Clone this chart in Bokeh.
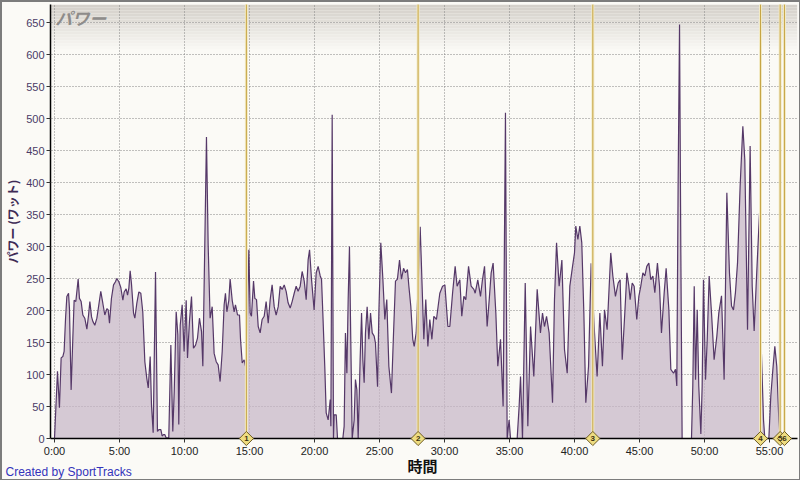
from bokeh.plotting import figure
from bokeh.models import Range1d, FixedTicker, Label, LabelSet, ColumnDataSource
from bokeh.embed import file_html
from bokeh.resources import INLINE

# ---- data (minutes, watts) ----
time_min = [
    0.00, 0.23, 0.38, 0.51, 0.64, 0.74, 0.85, 0.95, 1.08, 1.15, 1.28, 1.41, 1.51, 1.64, 1.82, 1.92,
    2.05, 2.18, 2.33, 2.49, 2.62, 2.72, 2.85, 2.95, 3.10, 3.26, 3.41, 3.56, 3.72, 3.87, 4.03, 4.13,
    4.23, 4.38, 4.54, 4.69, 4.79, 4.95, 5.10, 5.26, 5.36, 5.51, 5.62, 5.72, 5.82, 5.92, 6.08, 6.18,
    6.33, 6.49, 6.64, 6.79, 6.95, 7.10, 7.21, 7.36, 7.46, 7.59, 7.77, 7.92, 8.03, 8.18, 8.28, 8.38,
    8.49, 8.59, 8.79, 8.95, 9.10, 9.21, 9.36, 9.49, 9.56, 9.67, 9.82, 9.97, 10.13, 10.23, 10.38, 10.54,
    10.69, 10.85, 11.00, 11.15, 11.31, 11.41, 11.56, 11.69, 11.82, 11.97, 12.13, 12.28, 12.44, 12.59, 12.74, 12.90,
    13.05, 13.15, 13.26, 13.41, 13.51, 13.67, 13.82, 13.92, 14.08, 14.23,
    14.31, 14.44, 14.59, 14.69, 14.85, 14.95, 15.05, 15.15, 15.31, 15.41, 15.54, 15.67, 15.82, 15.97, 16.13, 16.28,
    16.44, 16.59, 16.74, 16.90, 17.05, 17.21, 17.36, 17.51, 17.67, 17.82, 17.97, 18.13, 18.28, 18.44, 18.59, 18.74,
    18.90, 19.05, 19.21, 19.36, 19.51, 19.62, 19.77, 19.97, 20.13, 20.28, 20.44, 20.54, 20.64, 20.79, 20.90, 21.05,
    21.21, 21.26, 21.36, 21.46, 21.51, 21.67, 21.77, 22.18, 22.28, 22.38, 22.49, 22.59, 22.69, 22.79, 22.90, 23.05,
    23.15, 23.26, 23.36, 23.51, 23.62, 23.72, 23.82, 23.92, 24.05, 24.18, 24.31, 24.44, 24.59, 24.69, 24.85, 24.95,
    25.10, 25.26, 25.41, 25.56, 25.72, 25.92, 26.08, 26.23, 26.38, 26.54, 26.69, 26.85, 27.00, 27.15, 27.26, 27.41,
    27.56, 27.67, 27.82, 27.97, 28.13,
    28.41, 28.56, 28.72, 28.87, 29.03, 29.18, 29.38, 29.64, 29.85, 30.03, 30.26, 30.41, 30.62, 30.82, 30.97, 31.18,
    31.33, 31.49, 31.64, 31.85, 32.05, 32.26, 32.36, 32.56, 32.77, 32.92, 33.08, 33.28, 33.44, 33.59, 33.74, 33.95,
    34.10, 34.31, 34.51, 34.69, 34.82, 34.97, 35.08, 35.59, 35.74, 35.85, 36.00, 36.21, 36.41, 36.62, 36.87, 37.13,
    37.38, 37.54, 37.69, 37.85, 38.05, 38.31, 38.46, 38.62, 38.82, 39.03, 39.23, 39.44, 39.64, 39.85, 40.00, 40.10,
    40.26, 40.41, 40.56, 40.72, 40.87, 41.08, 41.28, 41.54, 41.74, 41.95, 42.15, 42.31, 42.51,
    42.79, 42.95, 43.15, 43.36, 43.51, 43.67, 43.87, 44.03, 44.18, 44.28, 44.44, 44.59, 44.79, 44.95, 45.10, 45.26,
    45.41, 45.56, 45.72, 45.87, 46.03, 46.18, 46.38, 46.54, 46.69, 46.90, 47.05, 47.26, 47.41, 47.62, 47.77, 47.87,
    47.97, 48.08, 48.18, 48.28, 49.00, 49.10, 49.21, 49.31, 49.44, 49.56, 49.72, 49.82, 49.92, 50.08, 50.21, 50.36,
    50.54, 50.74, 50.95, 51.10, 51.31, 51.51, 51.72, 51.92, 52.08, 52.23, 52.38, 52.54, 52.74, 52.95, 53.10, 53.31,
    53.51, 53.67, 53.82, 53.97, 54.23, 54.38, 54.54, 54.64, 54.95, 55.10, 55.26, 55.41, 55.56, 55.72, 55.82, 56.30,
]
power_w = [
    0, 105, 48, 126, 128, 136, 188, 222, 227, 203, 76, 157, 216, 214, 249, 219,
    214, 193, 188, 171, 193, 214, 190, 183, 177, 188, 209, 230, 211, 193, 203, 201,
    180, 219, 240, 245, 250, 245, 236, 216, 229, 234, 224, 235, 262, 242, 196, 188,
    211, 229, 227, 198, 120, 94, 79, 128, 53, 9, 260, 11, 14, 14, 4, 6,
    6, 1, 1, 146, 11, 74, 198, 162, 22, 177, 209, 136, 216, 126, 183, 222,
    141, 146, 157, 188, 167, 113, 302, 471, 302, 188, 206, 133, 120, 115, 89, 136,
    209, 227, 198, 216, 249, 216, 198, 209, 193, 193,
    155, 118, 123, 113, 196, 295, 196, 191, 246, 219, 217, 175, 165, 186, 191, 214,
    180, 217, 240, 206, 193, 206, 238, 233, 240, 230, 212, 204, 214, 227, 238, 230,
    238, 261, 246, 217, 279, 295, 249, 201, 259, 269, 254, 249, 196, 113, 40, 29,
    61, 19, 506, 0, 37, 37, 0, 0, 19, 165, 102, 217, 300, 155, 0, 29,
    92, 76, 0, 123, 196, 123, 87, 165, 206, 155, 196, 165, 160, 149, 81, 196,
    306, 249, 186, 217, 113, 71, 165, 246, 249, 279, 249, 266, 259, 264, 238, 206,
    155, 144, 165, 238, 331,
    155, 217, 144, 186, 155, 191, 186, 227, 238, 240, 175, 175, 227, 269, 238, 248,
    191, 222, 217, 269, 238, 233, 227, 248, 222, 248, 269, 175, 217, 259, 274, 196,
    113, 155, 50, 509, 0, 29, 0, 0, 50, 97, 0, 243, 19, 175, 97, 233,
    165, 196, 175, 191, 165, 56, 217, 306, 238, 279, 139, 102, 238, 269, 290, 332,
    311, 332, 306, 196, 56, 113, 274, 165, 97, 196, 113, 201, 170,
    290, 254, 222, 243, 248, 123, 196, 259, 238, 217, 243, 238, 186, 222, 238, 259,
    254, 269, 274, 248, 254, 228, 274, 238, 165, 228, 266, 201, 108, 102, 108, 82,
    394, 647, 290, 0, 0, 82, 238, 92, 201, 82, 7, 82, 248, 92, 155, 254,
    196, 123, 160, 196, 223, 92, 384, 259, 207, 201, 228, 274, 394, 488, 436, 170,
    457, 238, 168, 238, 352, 133, 29, 0, 0, 66, 108, 144, 113, 29, 0, 0,
]
lap_times = [14.76, 27.97, 41.41, 54.31, 55.82, 56.15]
lap_labels = ["1", "2", "3", "4", "5", "6"]
x_ticks = [0, 5, 10, 15, 20, 25, 30, 35, 40, 45, 50, 55]
x_tick_labels = ["0:00", "5:00", "10:00", "15:00", "20:00", "25:00", "30:00",
                 "35:00", "40:00", "45:00", "50:00", "55:00"]
y_ticks = [0, 50, 100, 150, 200, 250, 300, 350, 400, 450, 500, 550, 600, 650]

# the frame covers the whole canvas; axes are pinned inside it so no text is clipped
XL, XA, XP, XR = -4.154, -0.308, 57.15, 57.385   # canvas left, y-axis, plot right, canvas right
YB, YP, Y1 = -65.6, 678.0, 684.4                 # canvas bottom, plot top, canvas top
BG = "#FBFAF6"
JP = "Noto Sans CJK JP"

p = figure(width=800, height=480, output_backend="svg", toolbar_location=None,
           x_range=Range1d(XL, XR), y_range=Range1d(YB, Y1),
           min_border_left=0, min_border_right=0, min_border_top=0, min_border_bottom=0)
p.background_fill_color = BG
p.border_fill_color = BG
p.outline_line_color = None

# top gradient band of the plot area
n = 16
band = 75.0
tops, bots, cols = [], [], []
for i in range(n):
    f = i / (n - 1)
    tops.append(YP - band * i / n)
    bots.append(YP - band * (i + 1) / n)
    r = int(212 + (251 - 212) * f)
    g = int(208 + (250 - 208) * f)
    b = int(202 + (246 - 202) * f)
    cols.append("#%02x%02x%02x" % (r, g, b))
p.quad(left=XA, right=XP, top=tops, bottom=bots, fill_color=cols, line_color=None, level="image")

# hide the grid outside the plot area
p.quad(left=XL, right=XR, top=0, bottom=YB, fill_color=BG, line_color=None)
p.quad(left=XL, right=XA, top=Y1, bottom=YB, fill_color=BG, line_color=None)
p.quad(left=XL, right=XR, top=Y1, bottom=YP, fill_color=BG, line_color=None)
p.quad(left=XP, right=XR, top=Y1, bottom=YB, fill_color=BG, line_color=None)

# area + line
p.varea(x=time_min, y1=0, y2=power_w, fill_color="#C6B5C6", fill_alpha=0.72)
p.line(time_min, power_w, line_color="#553868", line_width=1.2)

# lap markers
p.segment(x0=lap_times, y0=0, x1=lap_times, y1=YP, line_color="#F2EAC4", line_width=3)
p.segment(x0=lap_times, y0=0, x1=lap_times, y1=YP, line_color="#C6A444", line_width=1)
src = ColumnDataSource(dict(x=lap_times, y=[0] * len(lap_times), t=lap_labels))
p.scatter(x="x", y="y", source=src, marker="square", size=10, angle=0.785398,
          fill_color="#EEDC80", line_color="#6E5C24", line_width=1, level="overlay")
p.add_layout(LabelSet(x="x", y="y", text="t", source=src, text_align="center",
                      text_baseline="middle", text_font_size="8px", text_font_style="bold",
                      text_color="#3A3010", level="overlay"))

# outer frame of the picture
p.quad(left=XL, right=XR, top=Y1, bottom=YB, fill_color=None, line_color="#7c7c7c",
       line_width=3, level="overlay")

# grids
for g in (p.xgrid, p.ygrid):
    g.grid_line_color = "#858585"
    g.grid_line_dash = "1 2"
    g.grid_line_width = 1
p.xgrid.ticker = FixedTicker(ticks=x_ticks)
p.ygrid.ticker = FixedTicker(ticks=y_ticks)

# axes
p.xaxis.fixed_location = 0
p.xaxis.bounds = (XA, XP)
p.xaxis.ticker = FixedTicker(ticks=x_ticks)
p.xaxis.major_label_overrides = {t: s for t, s in zip(x_ticks, x_tick_labels)}
p.yaxis.fixed_location = XA
p.yaxis.ticker = FixedTicker(ticks=y_ticks)
p.yaxis.bounds = (0, YP)
for ax in (p.xaxis, p.yaxis):
    ax.axis_line_color = "black"
    ax.axis_line_width = 1.5
    ax.major_tick_in = 0
    ax.major_tick_out = 4
    ax.major_tick_line_color = "#333333"
    ax.minor_tick_line_color = None
    ax.major_label_text_font = "Liberation Sans"
    ax.major_label_text_font_size = "11px"
    ax.major_label_standoff = 2
p.xaxis.major_label_text_color = "#222222"
p.yaxis.major_label_text_color = "#4A3A66"
p.yaxis.axis_label = "パワー (ワット)"
p.yaxis.axis_label_text_font = JP
p.yaxis.axis_label_text_font_style = "bold"
p.yaxis.axis_label_text_font_size = "12px"
p.yaxis.axis_label_text_color = "#3E2B55"
p.yaxis.axis_label_standoff = 2

# texts
p.add_layout(Label(x=0.05, y=YP, text="パワー", text_baseline="top", text_align="left",
                   text_font=JP, text_font_size="17px", text_font_style="bold italic",
                   text_color="#8E8C8A"))
p.add_layout(Label(x=28.3, y=-42.2, text="時間", text_baseline="middle", text_align="center",
                   text_font=JP, text_font_size="15px", text_font_style="bold",
                   text_color="#111111"))
p.add_layout(Label(x=-3.77, y=-51.6, text="Created by SportTracks", text_baseline="middle",
                   text_align="left", text_font="Liberation Sans", text_font_size="12px",
                   text_color="#3333BB"))

open("out.html", "w").write(file_html(p, INLINE))
